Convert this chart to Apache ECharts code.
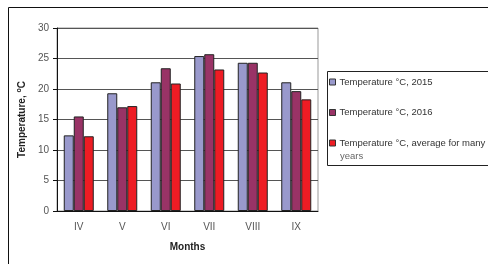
<!DOCTYPE html>
<html>
<head>
  <meta charset="utf-8">
</head>
<body style="margin: 0; background: #fff">
  <div id="container" style="width: 488px; height: 264px"></div>
  <script src="https://cdn.jsdelivr.net/npm/echarts@6/dist/echarts.min.js"></script>
  <script type="text/javascript">
    var months = ['IV', 'V', 'VI', 'VII', 'VIII', 'IX'];
    var temp2015 = [12.4, 19.3, 21.1, 25.4, 24.3, 21.1];
    var temp2016 = [15.5, 17.0, 23.4, 25.7, 24.3, 19.65];
    var tempAvg = [12.25, 17.2, 20.9, 23.2, 22.7, 18.3];
    var seriesNames = [
      'Temperature °C, 2015',
      'Temperature °C, 2016',
      'Temperature °C, average for many years'
    ];
    var seriesColors = ['#9999cc', '#993366', '#ee1c24'];

    var chart = echarts.init(document.getElementById('container'), null, { renderer: 'canvas' });
    var font = 'Liberation Sans';

    function bar(i, values) {
      return {
        name: seriesNames[i],
        type: 'bar',
        data: values,
        barWidth: 10,
        barGap: '0%',
        itemStyle: { color: seriesColors[i], borderColor: '#222', borderWidth: 1 }
      };
    }

    var option = {
      animation: false,
      textStyle: { fontFamily: font },
      grid: {
        left: 57, top: 28, width: 261, height: 183,
        show: true, borderColor: '#999', borderWidth: 1, backgroundColor: '#fff'
      },
      graphic: [
        // outer frame of the chart
        { type: 'rect', shape: { x: 8.5, y: 7.5, width: 490, height: 270 },
          style: { fill: 'none', stroke: '#111', lineWidth: 1 }, z: -10 },
        // legend frame
        { type: 'rect', shape: { x: 327.5, y: 71.5, width: 170, height: 94 },
          style: { fill: '#fff', stroke: '#222', lineWidth: 1 }, z: -5 },
        { type: 'text', left: 340, top: 151,
          style: { text: 'years', font: '9.5px ' + font, fill: '#666' } }
      ],
      legend: {
        orient: 'vertical',
        left: 329, top: 77,
        padding: 0,
        itemGap: 20.5,
        itemWidth: 6,
        itemHeight: 6,
        icon: 'rect',
        itemStyle: { borderColor: '#333', borderWidth: 1 },
        textStyle: { fontSize: 9.5, color: '#333', fontFamily: font, padding: [0, 0, 0, -1] },
        formatter: function (name) {
          return name === seriesNames[2] ? 'Temperature °C, average for many' : name;
        }
      },
      xAxis: {
        type: 'category',
        data: months,
        name: 'Months',
        nameLocation: 'middle',
        nameGap: 31,
        nameTextStyle: { fontSize: 10, fontWeight: 'bold', color: '#222' },
        axisLine: { lineStyle: { color: '#111' } },
        axisTick: { length: 5, lineStyle: { color: '#111' } },
        axisLabel: { fontSize: 10, color: '#555', margin: 11 }
      },
      yAxis: {
        type: 'value',
        min: 0, max: 30, interval: 5,
        name: '{t|Temperature, }{s|o}{t|C}',
        nameLocation: 'middle',
        nameGap: 26,
        nameRotate: 90,
        nameTextStyle: {
          rich: {
            t: { fontSize: 10, fontWeight: 'bold', color: '#222', fontFamily: font },
            s: { fontSize: 7, fontWeight: 'bold', color: '#222', fontFamily: font, padding: [0, 0, 6, 0] }
          }
        },
        axisLine: { show: true, lineStyle: { color: '#111' } },
        axisTick: { show: true, length: 4, lineStyle: { color: '#111' } },
        axisLabel: { fontSize: 10, color: '#555', margin: 8 },
        splitLine: { lineStyle: { color: '#555' } }
      },
      series: [bar(0, temp2015), bar(1, temp2016), bar(2, tempAvg)]
    };

    chart.setOption(option);
    window.addEventListener('resize', chart.resize);
  </script>
</body>
</html>
